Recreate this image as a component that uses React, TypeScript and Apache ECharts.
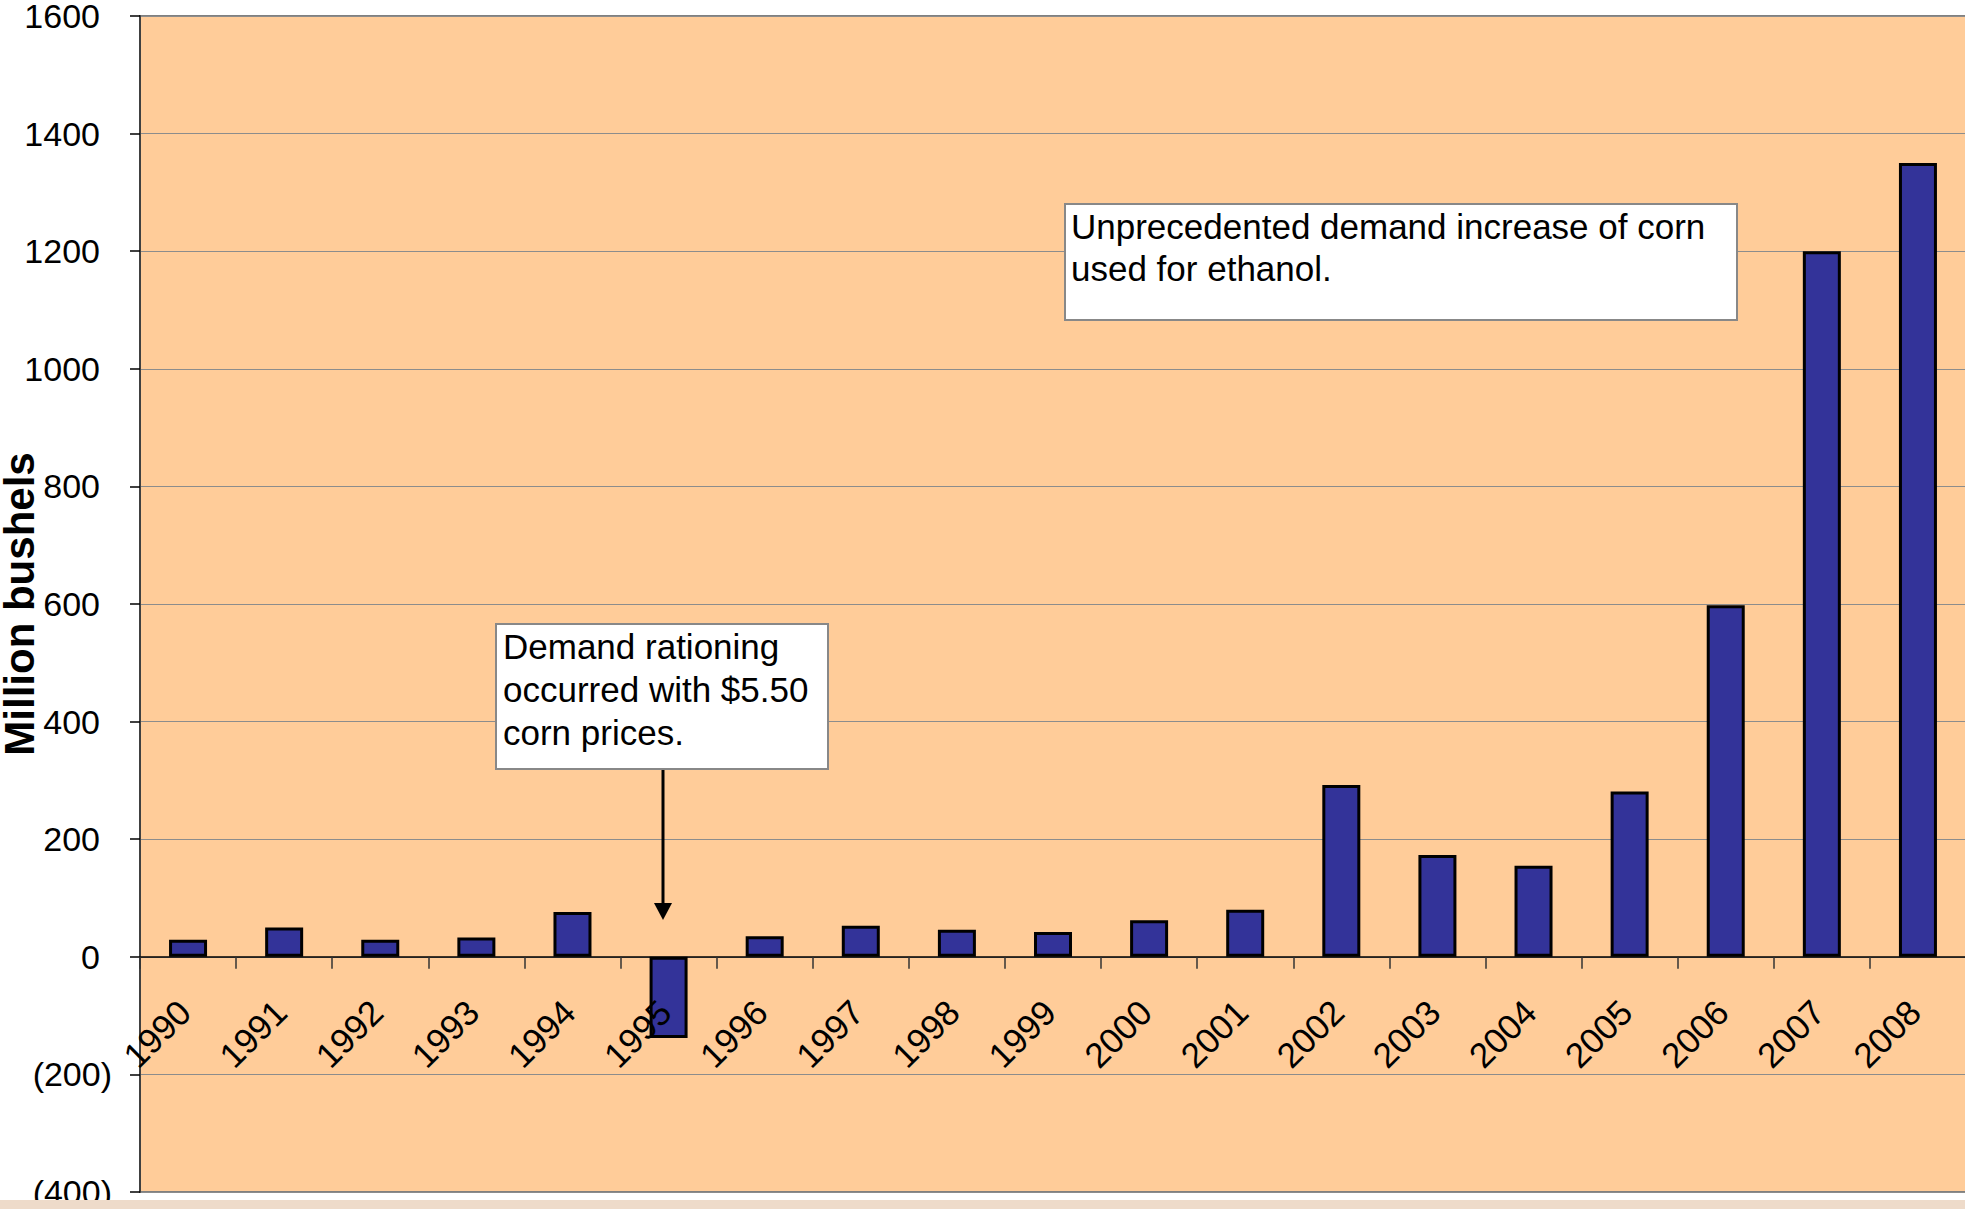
import React, { useEffect, useRef } from "react";
import * as echarts from "echarts";

const years = [
  "1990", "1991", "1992", "1993", "1994", "1995", "1996", "1997", "1998", "1999",
  "2000", "2001", "2002", "2003", "2004", "2005", "2006", "2007", "2008",
];
const bushels = [29, 50, 29, 33, 76, -138, 35, 53, 46, 42, 62, 80, 292, 173, 155, 281, 598, 1200, 1350];
const yTicks = { min: -400, max: 1600, step: 200 };
const yAxisTitle = "Million bushels";
const noteEthanol = "Unprecedented demand increase of corn\nused for ethanol.";
const noteRationing = "Demand rationing\noccurred with $5.50\ncorn prices.";

const FONT = "'Liberation Sans', Arial, sans-serif";

export default function App() {
  const ref = useRef<HTMLDivElement>(null);
  useEffect(() => {
    if (!ref.current) return;
    const chart = echarts.init(ref.current, undefined, { renderer: "svg" });
    chart.setOption({
      animation: false,
      backgroundColor: "#ffffff",
      grid: {
        left: 140,
        top: 16,
        width: 1826,
        height: 1176,
        show: true,
        backgroundColor: "#FFCC99",
        borderColor: "#808080",
        borderWidth: 2,
        containLabel: false,
        outerBoundsMode: "none",
      },
      xAxis: {
        type: "category",
        data: years,
        boundaryGap: true,
        axisLine: { onZero: true, lineStyle: { color: "#000000", width: 1.5 } },
        axisTick: { show: true, length: 12, lineStyle: { color: "#333333", width: 1.5 } },
        axisLabel: { show: false },
        splitLine: { show: false },
      },
      yAxis: {
        type: "value",
        min: yTicks.min,
        max: yTicks.max,
        interval: yTicks.step,
        name: yAxisTitle,
        nameLocation: "middle",
        nameGap: 100,
        nameMoveOverlap: false,
        nameTextStyle: { fontSize: 42, fontWeight: "bold", fontFamily: FONT, color: "#000000" },
        axisLine: { show: true, lineStyle: { color: "#404040", width: 2 } },
        axisTick: { show: true, length: 10, lineStyle: { color: "#000000", width: 1.5 } },
        axisLabel: {
          margin: 28,
          fontSize: 34,
          fontFamily: FONT,
          color: "#000000",
          formatter: (v: number) => (v < 0 ? `{n|(${-v})}` : `{p|${v}}`),
          rich: {
            p: { fontSize: 34, fontFamily: FONT, color: "#000000", padding: [0, 12, 0, 0] },
            n: { fontSize: 34, fontFamily: FONT, color: "#000000" },
          },
        },
        splitLine: { show: true, lineStyle: { color: "#8c8c8c", width: 1 } },
      },
      series: [
        {
          type: "bar",
          data: bushels,
          barWidth: 38,
          itemStyle: { color: "#333399", borderColor: "#000000", borderWidth: 3 },
        },
        {
          type: "custom",
          silent: true,
          clip: false,
          z: 5,
          data: years.map((_, i) => [i, 0]),
          renderItem: (params: any, api: any) => {
            const idx = api.value(0);
            const p = api.coord([idx, 0]);
            return {
              type: "text",
              x: p[0] - 16,
              y: p[1] + 37,
              rotation: Math.PI / 4,
              style: {
                text: years[idx],
                fontSize: 35,
                fontFamily: FONT,
                fill: "#000000",
                align: "right",
                verticalAlign: "top",
              },
            };
          },
        },
      ],
      graphic: [
        {
          type: "rect",
          left: 0,
          top: 1200,
          shape: { width: 1965, height: 9 },
          style: { fill: "#EEDBCA" },
          z: 100,
        },
        {
          type: "rect",
          shape: { x: 1065, y: 204, width: 672, height: 116 },
          style: { fill: "#ffffff", stroke: "#888888", lineWidth: 2 },
          z: 100,
        },
        {
          type: "text",
          x: 1071,
          y: 205,
          style: {
            text: noteEthanol,
            fontSize: 35,
            fontFamily: FONT,
            fill: "#000000",
            lineHeight: 42,
            verticalAlign: "top",
            align: "left",
          },
          z: 101,
        },
        {
          type: "rect",
          shape: { x: 496, y: 624, width: 332, height: 145 },
          style: { fill: "#ffffff", stroke: "#888888", lineWidth: 2 },
          z: 100,
        },
        {
          type: "text",
          x: 503,
          y: 625,
          style: {
            text: noteRationing,
            fontSize: 35,
            fontFamily: FONT,
            fill: "#000000",
            lineHeight: 43,
            verticalAlign: "top",
            align: "left",
          },
          z: 101,
        },
        {
          type: "line",
          shape: { x1: 663, y1: 770, x2: 663, y2: 906 },
          style: { stroke: "#000000", lineWidth: 3 },
          z: 100,
        },
        {
          type: "polygon",
          shape: { points: [[654, 903], [672, 903], [663, 920]] },
          style: { fill: "#000000" },
          z: 100,
        },
      ],
    });
    return () => chart.dispose();
  }, []);
  return (
    <div
      ref={ref}
      style={{ position: "fixed", left: 0, top: 0, width: 1965, height: 1209 }}
    />
  );
}
